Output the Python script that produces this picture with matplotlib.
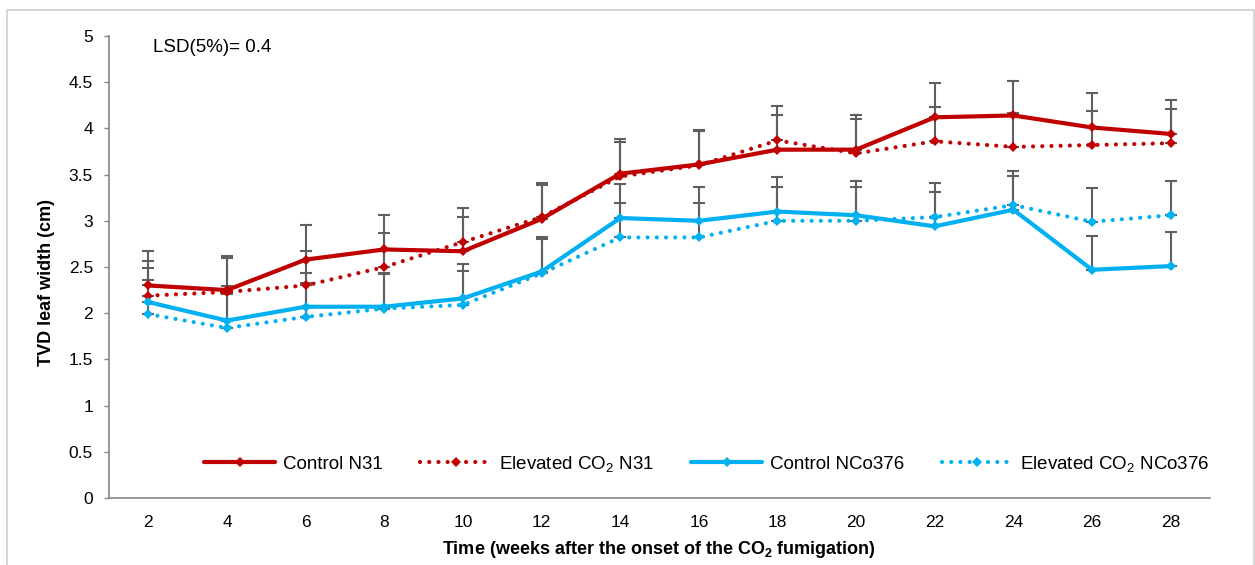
import matplotlib
matplotlib.use("Agg")
import matplotlib.pyplot as plt
from matplotlib.patches import Rectangle

plt.rcParams['font.family'] = ['Liberation Sans', 'DejaVu Sans']
plt.rcParams['mathtext.fontset'] = 'custom'
plt.rcParams['mathtext.rm'] = 'Liberation Sans'
plt.rcParams['mathtext.bf'] = 'Liberation Sans:bold'
plt.rcParams['mathtext.default'] = 'regular'

weeks = ['2', '4', '6', '8', '10', '12', '14', '16', '18', '20', '22', '24', '26', '28']

control_n31 = [2.30, 2.25, 2.58, 2.69, 2.67, 3.02, 3.51, 3.61, 3.77, 3.77, 4.12, 4.14, 4.01, 3.94]
elevated_n31 = [2.19, 2.23, 2.30, 2.50, 2.77, 3.04, 3.48, 3.60, 3.87, 3.73, 3.86, 3.80, 3.82, 3.84]
control_nco376 = [2.12, 1.92, 2.07, 2.07, 2.16, 2.45, 3.03, 3.00, 3.10, 3.06, 2.94, 3.12, 2.47, 2.51]
elevated_nco376 = [1.99, 1.84, 1.96, 2.05, 2.09, 2.43, 2.82, 2.82, 3.00, 3.00, 3.04, 3.17, 2.99, 3.06]
error_plus = [0.37] * len(weeks)

series_labels = ['Control N31', 'Elevated CO$_2$ N31', 'Control NCo376', 'Elevated CO$_2$ NCo376']
yticks = [0, 0.5, 1, 1.5, 2, 2.5, 3, 3.5, 4, 4.5, 5]
ytick_labels = ['0', '0.5', '1', '1.5', '2', '2.5', '3', '3.5', '4', '4.5', '5']

RED = '#C00000'
BLUE = '#00B0F0'
GREY_ERR = '#5F5F5F'
AXIS = '#868686'

fig = plt.figure(figsize=(12.55, 5.65), dpi=100)
fig.patches.append(Rectangle((7 / 1255, -0.05), 1247 / 1255, 1 - 10 / 565 + 0.05,
                             transform=fig.transFigure, fill=False,
                             edgecolor='#D0D0D0', linewidth=1.2))
ax = fig.add_axes([109 / 1255, 67 / 565, 1101 / 1255, 462 / 565])

x = list(range(len(weeks)))
dotted = (0, (0.01, 2.2))
specs = [
    (control_n31, RED, '-'),
    (elevated_n31, RED, dotted),
    (control_nco376, BLUE, '-'),
    (elevated_nco376, BLUE, dotted),
]

handles = []
for (vals, color, ls), label in zip(specs, series_labels):
    ax.errorbar(x, vals, yerr=[[0] * len(vals), error_plus], fmt='none',
                ecolor=GREY_ERR, elinewidth=1.5, capsize=4, capthick=1.5, zorder=2)
for (vals, color, ls), label in zip(specs, series_labels):
    line, = ax.plot(x, vals, color=color, linestyle=ls, linewidth=3,
                    marker='D', markersize=5.5, markeredgewidth=0,
                    dash_capstyle='round', solid_capstyle='round',
                    solid_joinstyle='round', label=label, zorder=3)
    handles.append(line)

ax.set_xlim(-0.5, len(weeks) - 0.5)
ax.set_ylim(0, 5)
ax.set_xticks(x)
ax.set_xticklabels(weeks)
ax.set_yticks(yticks)
ax.set_yticklabels(ytick_labels)
ax.tick_params(axis='x', length=0, pad=12, labelsize=12.5)
ax.tick_params(axis='y', length=3.6, width=1, color=AXIS, pad=8, labelsize=12.5)

for side in ('top', 'right'):
    ax.spines[side].set_visible(False)
for side in ('left', 'bottom'):
    ax.spines[side].set_color(AXIS)
    ax.spines[side].set_linewidth(1.2)

ax.set_ylabel('TVD leaf width (cm)', fontsize=13, fontweight='bold')
ax.yaxis.set_label_coords(47 / 1255, 0.5, transform=fig.transFigure)
ax.yaxis.label.set_va('center')
ax.set_xlabel(r'Time (weeks after the onset of the CO$_\mathbf{2}$ fumigation)',
              fontsize=13, fontweight='bold')
ax.xaxis.set_label_coords(659 / 1255, 1 - 550 / 565, transform=fig.transFigure)
ax.xaxis.label.set_va('center')

ax.text(153 / 1255, 1 - 47 / 565, 'LSD(5%)= 0.4', transform=fig.transFigure,
        fontsize=13.5, ha='left', va='center')

leg = ax.legend(handles=handles, loc='center', bbox_to_anchor=(707 / 1255, 1 - 464 / 565),
                bbox_transform=fig.transFigure, ncol=4, frameon=False,
                fontsize=13.5, handlelength=3.8, handletextpad=0.4,
                columnspacing=2.0, numpoints=1, markerscale=0.9)

fig.savefig('out.png', dpi=100)
